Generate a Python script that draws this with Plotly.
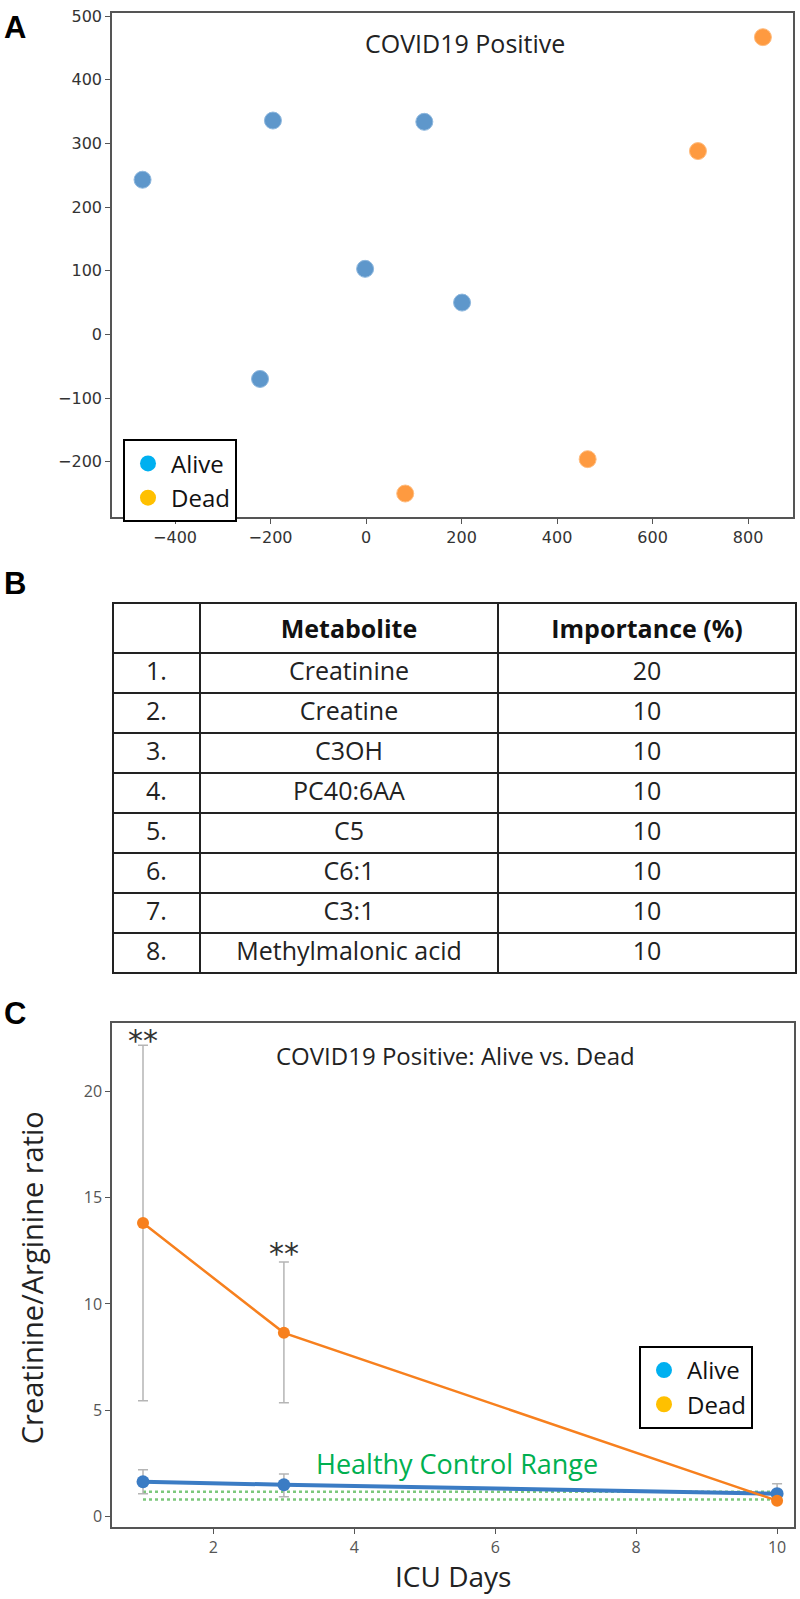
import plotly.graph_objects as go

# Panel A: score plot
alive_x = [-468, -195, 122, -2, 201, -222]
alive_y = [243, 336, 334, 103, 50, -70]
dead_x = [831, 695, 464, 82]
dead_y = [467, 288, -196, -250]

# Panel B: importance table
ranks = ["1.", "2.", "3.", "4.", "5.", "6.", "7.", "8."]
metabolites = ["Creatinine", "Creatine", "C3OH", "PC40:6AA", "C5", "C6:1", "C3:1", "Methylmalonic acid"]
importance = [20, 10, 10, 10, 10, 10, 10, 10]

# Panel C: creatinine/arginine ratio over ICU days
icu_days = [1, 3, 10]
alive_ratio = [1.64, 1.5, 1.08]
alive_hi = [2.2, 2.0, 1.55]
alive_lo = [1.08, 0.94, 0.7]
dead_ratio = [13.8, 8.64, 0.75]
dead_hi = [22.16, 11.97, 0.75]
dead_lo = [5.45, 5.35, 0.75]
healthy_days = [1, 10]
healthy_low = 0.8
healthy_high = 1.17
sig_days = [1, 3]
sig_y = [22.75, 12.75]

W, H = 800, 1599
FONT = "Open Sans"
AX = "#555555"


def px_x(v):
    return min(max(v / W, 0.0), 1.0)


def px_y(v):
    return min(max(1 - v / H, 0.0), 1.0)


fig = go.Figure()

# ---- panel A
fig.add_trace(go.Scatter(x=alive_x, y=alive_y, mode="markers", showlegend=False,
                         marker=dict(size=17, color="#5e97cb", line=dict(width=1, color="#8db7de")),
                         xaxis="x", yaxis="y"))
fig.add_trace(go.Scatter(x=dead_x, y=dead_y, mode="markers", showlegend=False,
                         marker=dict(size=17, color="#fe9a40", line=dict(width=1, color="#ffbd80")),
                         xaxis="x", yaxis="y"))
fig.add_trace(go.Scatter(x=[None], y=[None], mode="markers", name="Alive", legend="legend",
                         legendgroup="a1", marker=dict(size=18, color="#00b0f0"), xaxis="x", yaxis="y"))
fig.add_trace(go.Scatter(x=[None], y=[None], mode="markers", name="Dead", legend="legend",
                         legendgroup="a2", marker=dict(size=18, color="#ffc000"), xaxis="x", yaxis="y"))

# ---- panel B
fig.add_trace(go.Table(
    domain=dict(x=[px_x(113), px_x(796)], y=[px_y(980), px_y(599)]),
    columnwidth=[87, 298, 298],
    header=dict(values=["", "<b>Metabolite</b>", "<b>Importance (%)</b>"],
                height=40, align="center", fill_color="white",
                line=dict(color="#222222", width=2),
                font=dict(family=FONT, size=25, color="#111111")),
    cells=dict(values=[ranks, metabolites, importance],
               height=40, align="center", fill_color="white",
               line=dict(color="#222222", width=2),
               font=dict(family=FONT, size=25, color="#222222")),
))

# ---- panel C
for y0 in [healthy_low, healthy_high]:
    fig.add_trace(go.Scatter(x=healthy_days, y=[y0, y0], mode="lines", showlegend=False,
                             line=dict(color="#7cc87c", width=2.5, dash="dot"),
                             xaxis="x2", yaxis="y2"))

fig.add_trace(go.Scatter(
    x=icu_days, y=alive_ratio, mode="lines+markers", showlegend=False,
    line=dict(color="#3b7cc4", width=4), marker=dict(size=13, color="#3b7cc4"),
    error_y=dict(type="data", symmetric=False,
                 array=[h - v for h, v in zip(alive_hi, alive_ratio)],
                 arrayminus=[v - l for l, v in zip(alive_lo, alive_ratio)],
                 color="#b5b5b5", thickness=1.5, width=5),
    xaxis="x2", yaxis="y2"))
fig.add_trace(go.Scatter(
    x=icu_days, y=dead_ratio, mode="lines+markers", showlegend=False,
    line=dict(color="#f7801e", width=2.5), marker=dict(size=12, color="#f7801e"),
    error_y=dict(type="data", symmetric=False,
                 array=[h - v for h, v in zip(dead_hi, dead_ratio)],
                 arrayminus=[v - l for l, v in zip(dead_lo, dead_ratio)],
                 color="#b5b5b5", thickness=1.5, width=5),
    xaxis="x2", yaxis="y2"))
fig.add_trace(go.Scatter(x=[None], y=[None], mode="markers", name="Alive", legend="legend2",
                         legendgroup="c1", marker=dict(size=18, color="#00b0f0"), xaxis="x2", yaxis="y2"))
fig.add_trace(go.Scatter(x=[None], y=[None], mode="markers", name="Dead", legend="legend2",
                         legendgroup="c2", marker=dict(size=18, color="#ffc000"), xaxis="x2", yaxis="y2"))

axis_common = dict(showline=True, mirror=True, linecolor=AX, linewidth=1.5,
                   ticks="outside", ticklen=5, tickcolor=AX, showgrid=False, zeroline=False)

legend_common = dict(xanchor="left", yanchor="top", bgcolor="white", bordercolor="black",
                     borderwidth=2, itemwidth=36, tracegroupgap=0, traceorder="grouped",
                     font=dict(family=FONT, size=24, color="#111111"))

fig.update_layout(
    width=W, height=H, autosize=False,
    margin=dict(l=0, r=0, t=0, b=0),
    paper_bgcolor="white", plot_bgcolor="white",
    font=dict(family=FONT, color="#222222"),
    xaxis=dict(domain=[px_x(112), px_x(793)], range=[-532, 894],
               tickvals=[-400, -200, 0, 200, 400, 600, 800],
               tickfont=dict(family="DejaVu Sans", size=16, color="#333333"),
               anchor="y", **axis_common),
    yaxis=dict(domain=[px_y(513), px_y(7)], range=[-287, 505],
               tickvals=[-200, -100, 0, 100, 200, 300, 400, 500],
               tickfont=dict(family="DejaVu Sans", size=16, color="#333333"),
               anchor="x", **axis_common),
    xaxis2=dict(domain=[px_x(112), px_x(794)], range=[0.56, 10.24],
                tickvals=[2, 4, 6, 8, 10],
                tickfont=dict(family=FONT, size=16, color="#555555"),
                anchor="y2", **axis_common),
    yaxis2=dict(domain=[px_y(1527), px_y(1021)], range=[-0.5, 23.2],
                tickvals=[0, 5, 10, 15, 20],
                tickfont=dict(family=FONT, size=16, color="#555555"),
                anchor="x2", **axis_common),
    legend=dict(x=px_x(123), y=px_y(435), **legend_common),
    legend2=dict(x=px_x(639), y=px_y(1345), **legend_common),
)

annotations = [
    dict(text="<b>A</b>", x=px_x(15), y=px_y(22)),
    dict(text="<b>B</b>", x=px_x(15), y=px_y(580)),
    dict(text="<b>C</b>", x=px_x(15), y=px_y(1011)),
]
for a in annotations:
    a.update(xref="paper", yref="paper", showarrow=False, xanchor="center", yanchor="middle",
             font=dict(family="Liberation Sans", size=31, color="black"))

annotations += [
    dict(text="COVID19 Positive", xref="paper", yref="paper", x=px_x(465), y=px_y(37),
         xanchor="center", yanchor="middle", showarrow=False,
         font=dict(family=FONT, size=25, color="#222222")),
    dict(text="COVID19 Positive: Alive vs. Dead", xref="paper", yref="paper",
         x=px_x(455), y=px_y(1053), xanchor="center", yanchor="middle", showarrow=False,
         font=dict(family=FONT, size=24, color="#222222")),
    dict(text="Creatinine/Arginine ratio", xref="paper", yref="paper", x=px_x(31), y=px_y(1277),
         xanchor="center", yanchor="middle", textangle=-90, showarrow=False,
         font=dict(family=FONT, size=29, color="#222222")),
    dict(text="ICU Days", xref="paper", yref="paper", x=px_x(453), y=px_y(1576),
         xanchor="center", yanchor="middle", showarrow=False,
         font=dict(family=FONT, size=28, color="#222222")),
    dict(text="Healthy Control Range", xref="x2", yref="y2", x=5.46, y=2.5,
         xanchor="center", yanchor="middle", showarrow=False,
         font=dict(family=FONT, size=27, color="#00b050")),
]
for d, y in zip(sig_days, sig_y):
    annotations.append(dict(text="**", xref="x2", yref="y2", x=d, y=y, xanchor="center",
                            yanchor="middle", yshift=-8, showarrow=False,
                            font=dict(family="DejaVu Sans", size=30, color="#333333")))

fig.update_layout(annotations=annotations)

# drop the default 8px page margin so the figure sits flush in the window
fig.write_html("out.html", config={"displayModeBar": False},
               post_script="document.body.style.margin = '0px';")
